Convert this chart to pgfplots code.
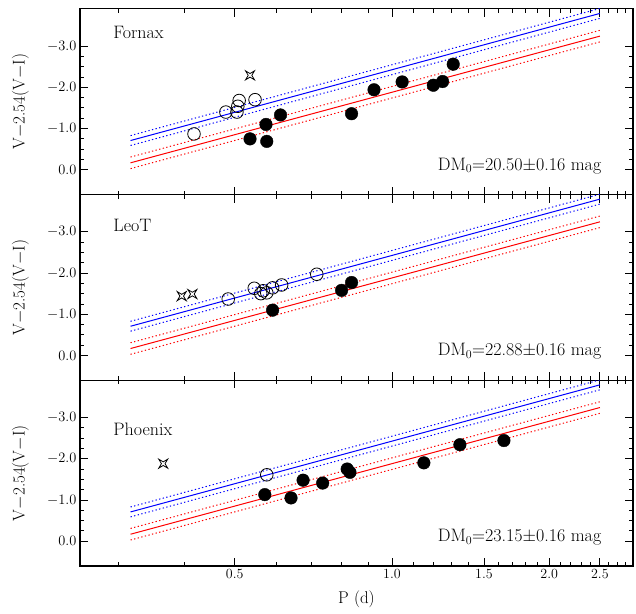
\documentclass[border=0pt]{standalone}
\usepackage{pgfplots}
\pgfplotsset{compat=1.18}

% four-pointed star with tips on the diagonals
\pgfdeclareplotmark{cstar}{%
  \pgfpathmoveto{\pgfpoint{\pgfplotmarksize}{\pgfplotmarksize}}%
  \pgfpathlineto{\pgfpoint{0pt}{0.4\pgfplotmarksize}}%
  \pgfpathlineto{\pgfpoint{-\pgfplotmarksize}{\pgfplotmarksize}}%
  \pgfpathlineto{\pgfpoint{-0.4\pgfplotmarksize}{0pt}}%
  \pgfpathlineto{\pgfpoint{-\pgfplotmarksize}{-\pgfplotmarksize}}%
  \pgfpathlineto{\pgfpoint{0pt}{-0.4\pgfplotmarksize}}%
  \pgfpathlineto{\pgfpoint{\pgfplotmarksize}{-\pgfplotmarksize}}%
  \pgfpathlineto{\pgfpoint{0.4\pgfplotmarksize}{0pt}}%
  \pgfpathclose\pgfusepathqstroke}

\tikzset{lbl/.style={font=\fontsize{18}{20}\selectfont}}

\pgfplotsset{
  acpanel/.style={
    scale only axis, width=553pt, height=185.7pt,
    xmin=0.2529, xmax=2.893,
    ymin=-3.9, ymax=0.6, y dir=reverse,
    xtick={0.5,1,1.5,2,2.5},
    minor xtick={0.3,0.4,0.6,0.7,0.8,0.9,1.1,1.2,1.3,1.4,1.6,1.7,1.8,1.9,2.1,2.2,2.3,2.4,2.6,2.7,2.8},
    ytick={-3,-2,-1,0}, minor y tick num=3,
    yticklabel style={/pgf/number format/fixed,/pgf/number format/fixed zerofill,/pgf/number format/precision=1},
    tick align=inside, major tick length=8pt, minor tick length=4pt,
    every tick/.style={black, line width=0.9pt},
    axis line style={line width=1.1pt},
    tick label style={font=\fontsize{14}{16}\selectfont},
    label style={font=\fontsize{17}{19}\selectfont},
    ylabel={V$-$2.54(V$-$I)},
    ylabel style={at={(axis description cs:-0.108,0.5)}, anchor=center},
  },
  filled/.style={only marks, mark=*, mark size=6.3pt, black, mark options={fill=black}},
  hollow/.style={only marks, mark=o, mark size=6.3pt, black, mark options={line width=0.8pt}},
  starry/.style={only marks, mark=cstar, mark size=4.5pt, black, mark options={line width=0.8pt}},
}

\newcommand\relations{%
  \addplot[blue, line width=1pt] coordinates {(0.316,-0.71) (2.5,-3.79)};
  \addplot[blue, line width=1pt, dash pattern=on 1.3pt off 2.4pt] coordinates {(0.316,-0.83) (2.5,-3.91)};
  \addplot[blue, line width=1pt, dash pattern=on 1.3pt off 2.4pt] coordinates {(0.316,-0.59) (2.5,-3.67)};
  \addplot[red, line width=1pt] coordinates {(0.316,-0.17) (2.5,-3.24)};
  \addplot[red, line width=1pt, dash pattern=on 1.3pt off 2.4pt] coordinates {(0.316,-0.31) (2.5,-3.38)};
  \addplot[red, line width=1pt, dash pattern=on 1.3pt off 2.4pt] coordinates {(0.316,-0.03) (2.5,-3.10)};
}

\begin{document}
\begin{tikzpicture}
\useasboundingbox (-80pt,-47pt) rectangle (556pt,566pt);

% Fornax
\begin{axis}[xmode=log, acpanel, at={(0pt,371.4pt)}, anchor=south west, xticklabels={}]
\addplot[hollow] coordinates {(0.418,-0.87) (0.481,-1.40) (0.505,-1.40) (0.507,-1.54) (0.510,-1.68) (0.547,-1.70)};
\addplot[starry] coordinates {(0.535,-2.29)};
\addplot[filled] coordinates {(0.535,-0.75) (0.576,-0.69) (0.574,-1.10) (0.612,-1.33) (0.837,-1.36)
  (0.924,-1.94) (1.046,-2.13) (1.200,-2.05) (1.250,-2.14) (1.310,-2.56)};
\relations
\node[anchor=base west, lbl] at (rel axis cs:0.054,0.84) {Fornax};
\node[anchor=base east, lbl] at (rel axis cs:0.949,0.131) {DM$_0$=20.50$\pm$0.16 mag};
\end{axis}

% LeoT
\begin{axis}[xmode=log, acpanel, at={(0pt,185.7pt)}, anchor=south west, xticklabels={}]
\addplot[starry] coordinates {(0.396,-1.44) (0.415,-1.49)};
\addplot[hollow] coordinates {(0.486,-1.37) (0.545,-1.63) (0.561,-1.50) (0.567,-1.57) (0.576,-1.52)
  (0.591,-1.64) (0.615,-1.71) (0.718,-1.97)};
\addplot[filled] coordinates {(0.591,-1.10) (0.801,-1.58) (0.837,-1.77)};
\relations
\node[anchor=base west, lbl] at (rel axis cs:0.054,0.80) {LeoT};
\node[anchor=base east, lbl] at (rel axis cs:0.949,0.131) {DM$_0$=22.88$\pm$0.16 mag};
\end{axis}

% Phoenix
\begin{axis}[xmode=log, acpanel, at={(0pt,0pt)}, anchor=south west,
  xticklabels={0.5,1.0,1.5,2.0,2.5}, xlabel={P (d)},
  xlabel style={at={(axis description cs:0.5,-0.18)}, anchor=center}]
\addplot[starry] coordinates {(0.365,-1.88)};
\addplot[hollow] coordinates {(0.576,-1.61)};
\addplot[filled] coordinates {(0.571,-1.13) (0.641,-1.05) (0.676,-1.48) (0.737,-1.41) (0.821,-1.75)
  (0.831,-1.67) (1.151,-1.90) (1.349,-2.34) (1.638,-2.44)};
\relations
\node[anchor=base west, lbl] at (rel axis cs:0.054,0.705) {Phoenix};
\node[anchor=base east, lbl] at (rel axis cs:0.949,0.131) {DM$_0$=23.15$\pm$0.16 mag};
\end{axis}
\end{tikzpicture}
\end{document}
